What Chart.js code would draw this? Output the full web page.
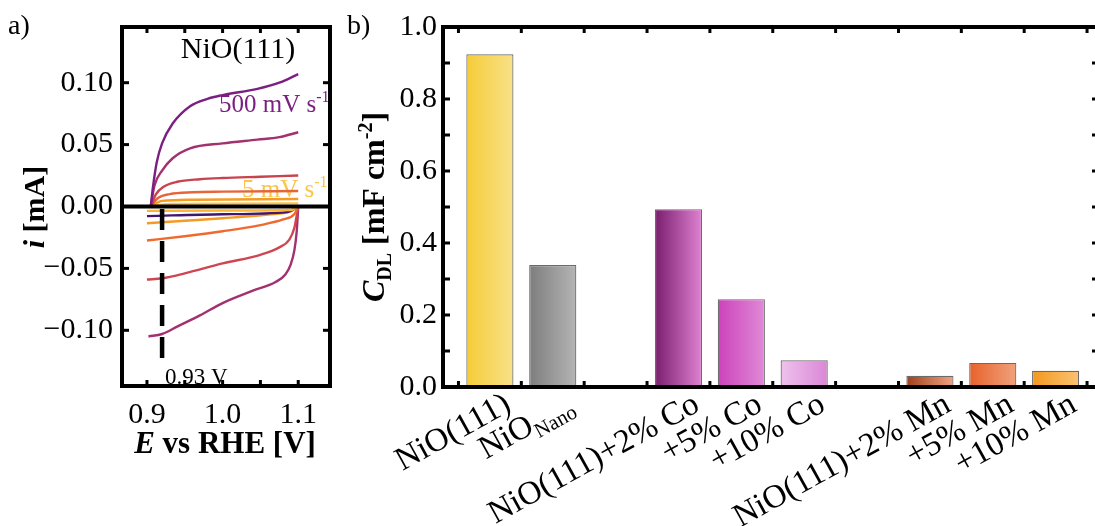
<!DOCTYPE html>
<html>
<head>
<meta charset="utf-8">
<script src="https://cdn.jsdelivr.net/npm/chart.js@4.4.1/dist/chart.umd.min.js"></script>
<style>
  html, body { margin: 0; padding: 0; background: #fff; overflow: hidden; width: 1095px; height: 526px; }
  #wa { position: absolute; left: 0; top: 0; width: 340px; height: 526px; }
  #wb { position: absolute; left: 340px; top: 0; width: 760px; height: 526px; }
</style>
</head>
<body>
<div id="wa"><canvas id="ca"></canvas></div>
<div id="wb"><canvas id="cb"></canvas></div>
<script>
// ---------- a) cyclic voltammograms of NiO(111): E [V vs RHE], i [mA] ----------
const cvUp500   = [[0.905,0],[0.908,0.016],[0.913,0.036],[0.92,0.051],[0.934,0.067],[0.957,0.081],[0.98,0.087],[1.0,0.090],[1.046,0.095],[1.075,0.100],[1.1,0.107]];
const cvUp200   = [[0.905,0],[0.91,0.017],[0.92,0.029],[0.934,0.039],[0.957,0.047],[1.0,0.051],[1.046,0.054],[1.075,0.056],[1.1,0.060]];
const cvUp100   = [[0.905,0],[0.912,0.010],[0.922,0.016],[0.94,0.020],[0.97,0.022],[1.0,0.023],[1.05,0.024],[1.1,0.025]];
const cvUp50    = [[0.905,0],[0.915,0.007],[0.93,0.010],[0.96,0.0115],[1.0,0.012],[1.1,0.0125]];
const cvUp20    = [[0.905,0],[0.92,0.0045],[0.96,0.0055],[1.1,0.006]];
const cvUp5     = [[0.905,0],[0.93,0.002],[1.1,0.0025]];
const cvDown5   = [[0.9,-0.0035],[1.0,-0.0032],[1.09,-0.0028],[1.1,0]];
const cvDown10  = [[0.9,-0.0078],[1.0,-0.0062],[1.085,-0.0045],[1.1,0]];
const cvDown20  = [[0.9,-0.0135],[0.95,-0.0115],[1.0,-0.0095],[1.06,-0.0065],[1.09,-0.004],[1.1,0]];
const cvDown50  = [[0.9,-0.0275],[0.95,-0.024],[1.0,-0.02],[1.05,-0.015],[1.08,-0.0105],[1.095,-0.006],[1.1,0]];
const cvDown100 = [[0.9,-0.059],[0.92,-0.058],[0.95,-0.054],[1.0,-0.046],[1.05,-0.039],[1.075,-0.033],[1.088,-0.027],[1.095,-0.017],[1.1,0]];
const cvDown500 = [[0.902,-0.105],[0.92,-0.103],[0.94,-0.097],[0.97,-0.088],[1.0,-0.078],[1.04,-0.068],[1.07,-0.061],[1.083,-0.055],[1.09,-0.047],[1.095,-0.035],[1.098,-0.02],[1.1,0]];
const onsetMarker = [[0.92,-0.002],[0.92,-0.124]];   // 0.93 V guide
const eTicks = [0.9, 1.0, 1.1];
const eMinorTicks = [0.9, 0.95, 1.0, 1.05, 1.1];
const iTicks = [-0.10, -0.05, 0, 0.05, 0.10];

const cvCurves = [cvUp500, cvUp200, cvUp100, cvUp50, cvUp20, cvUp5,
                  cvDown5, cvDown10, cvDown20, cvDown50, cvDown100, cvDown500];
const cvColors = ['#7b2081', '#a3306f', '#c9434f', '#e5663a', '#f59a22', '#f9c548',
                  '#fbb434', '#40196e', '#f59a22', '#ee6a30', '#cf4653', '#a3306f'];

// ---------- b) double-layer capacitance ----------
const categories = ['NiO(111)', 'NiO_Nano', null, 'NiO(111)+2% Co', '+5% Co', '+10% Co',
                    null, 'NiO(111)+2% Mn', '+5% Mn', '+10% Mn'];
const cdlValues  = [0.924, 0.339, null, 0.494, 0.244, 0.074, null, 0.031, 0.067, 0.045];
const cdlTicks   = [0, 0.2, 0.4, 0.6, 0.8, 1.0];
const barDark    = ['#f5cc38', '#7d7d7d', null, '#7a1d6e', '#cc42bb', '#efc2ee', null, '#a0401c', '#e8612c', '#f3981e'];
const barLight   = ['#f8e189', '#b5b5b5', null, '#e082d2', '#e08ad6', '#da86d6', null, '#f0a283', '#f0a27c', '#fbc274'];

const SERIF = "'Liberation Serif', 'Times New Roman', serif";
Chart.defaults.font.family = SERIF;
Chart.defaults.color = '#000';
Chart.defaults.animation = false;

function drawRuns(ctx, runs, x, y, align) {
  let w = 0;
  runs.forEach(r => { ctx.font = r.font; r.w = ctx.measureText(r.t).width; w += r.w; });
  let xx = align === 'center' ? x - w / 2 : align === 'right' ? x - w : x;
  ctx.textAlign = 'left';
  runs.forEach(r => { ctx.font = r.font; ctx.fillText(r.t, xx, y + (r.dy || 0)); xx += r.w; });
}
function seg(ctx, x1, y1, x2, y2) { ctx.beginPath(); ctx.moveTo(x1, y1); ctx.lineTo(x2, y2); ctx.stroke(); }

// ---------- panel a ----------
const cvDatasets = cvCurves.map((c, k) => ({
  data: c.map(p => ({ x: p[0], y: p[1] })),
  borderColor: cvColors[k],
  borderWidth: 2.4,
  showLine: true,
  pointRadius: 0,
  cubicInterpolationMode: 'monotone'
}));
cvDatasets.push({
  data: onsetMarker.map(p => ({ x: p[0], y: p[1] })),
  borderColor: '#000', borderWidth: 4.5, borderDash: [21, 11],
  showLine: true, pointRadius: 0, order: -1
});

const panelA = {
  id: 'panelA',
  beforeDatasetsDraw(chart) {
    const ctx = chart.ctx;
    ctx.save();
    ctx.textBaseline = 'alphabetic';
    ctx.fillStyle = '#7b2081';
    drawRuns(ctx, [{ t: '500 mV s', font: '25px ' + SERIF }, { t: '-1', font: '16px ' + SERIF, dy: -10 }], 219, 112, 'left');
    ctx.fillStyle = '#f9c54a';
    drawRuns(ctx, [{ t: '5 mV s', font: '25px ' + SERIF }, { t: '-1', font: '16px ' + SERIF, dy: -10 }], 242, 197, 'left');
    ctx.restore();
  },
  afterDatasetsDraw(chart) {
    const { ctx, chartArea: a, scales: { x, y } } = chart;
    ctx.save();
    ctx.strokeStyle = '#000';
    ctx.lineWidth = 4;
    const y0 = y.getPixelForValue(0);
    seg(ctx, a.left, y0, a.right, y0);
    ctx.strokeRect(a.left, a.top, a.right - a.left, a.bottom - a.top);
    ctx.lineWidth = 3;
    iTicks.forEach(v => { const p = y.getPixelForValue(v); seg(ctx, a.left, p, a.left + 7, p); seg(ctx, a.right, p, a.right - 7, p); });
    eMinorTicks.forEach(v => { const p = x.getPixelForValue(v); seg(ctx, p, a.bottom, p, a.bottom - 6); seg(ctx, p, a.top, p, a.top + 6); });

    ctx.fillStyle = '#000';
    ctx.textBaseline = 'alphabetic';
    drawRuns(ctx, [{ t: 'NiO(111)', font: '30px ' + SERIF }], 238, 58, 'center');
    drawRuns(ctx, [{ t: '0.93 V', font: '23px ' + SERIF }], 165, 384, 'left');
    drawRuns(ctx, [{ t: 'a)', font: '28px ' + SERIF }], 8, 34, 'left');
    drawRuns(ctx, [{ t: 'E', font: 'italic bold 31px ' + SERIF }, { t: ' vs RHE [V]', font: 'bold 31px ' + SERIF }], 225, 453, 'center');
    ctx.save();
    ctx.translate(44, 207);
    ctx.rotate(-Math.PI / 2);
    drawRuns(ctx, [{ t: 'i', font: 'italic bold 30px ' + SERIF }, { t: ' [mA]', font: 'bold 30px ' + SERIF }], 0, 0, 'center');
    ctx.restore();
    ctx.restore();
  }
};

new Chart(document.getElementById('ca'), {
  type: 'scatter',
  data: { datasets: cvDatasets },
  options: {
    responsive: true, maintainAspectRatio: false,
    layout: { padding: { top: 27, right: 10, left: 0, bottom: 0 } },
    plugins: { legend: { display: false }, tooltip: { enabled: false } },
    scales: {
      x: {
        type: 'linear', min: 0.867, max: 1.142,
        afterBuildTicks: s => { s.ticks = eTicks.map(v => ({ value: v })); },
        afterFit: s => { s.height = 140; },
        grid: { display: false, drawTicks: false },
        border: { display: false },
        ticks: { font: { size: 30 }, padding: 11, maxRotation: 0, callback: v => v.toFixed(1) }
      },
      y: {
        type: 'linear', min: -0.145, max: 0.145,
        afterBuildTicks: s => { s.ticks = iTicks.map(v => ({ value: v })); },
        afterFit: s => { s.width = 122; },
        grid: { display: false, drawTicks: false },
        border: { display: false },
        ticks: { font: { size: 30 }, padding: 9,
                 callback: v => (v < -1e-9 ? '\u2212' + Math.abs(v).toFixed(2) : Math.abs(v).toFixed(2)) }
      }
    }
  },
  plugins: [panelA]
});

// ---------- panel b ----------
const barPoints = categories.map((c, i) => ({ x: i, y: cdlValues[i], k: i })).filter(d => d.y !== null);

function barFill(ctx) {
  const d = ctx.raw; const chart = ctx.chart;
  if (!d) return '#ccc';
  if (!chart.chartArea) return barDark[d.k];
  const xs = chart.scales.x;
  const c = xs.getPixelForValue(d.x);
  const h = xs.getPixelForValue(d.x + 0.375) - c;
  const g = chart.ctx.createLinearGradient(c - h, 0, c + h, 0);
  g.addColorStop(0, barDark[d.k]);
  g.addColorStop(1, barLight[d.k]);
  return g;
}

const panelB = {
  id: 'panelB',
  afterDatasetsDraw(chart) {
    const { ctx, chartArea: a, scales: { x, y } } = chart;
    ctx.save();
    ctx.strokeStyle = '#000';
    ctx.lineWidth = 4;
    ctx.strokeRect(a.left, a.top, a.right - a.left, a.bottom - a.top);
    ctx.lineWidth = 3;
    for (let v = 0; v <= 1.0001; v += 0.1) {
      const p = y.getPixelForValue(v);
      seg(ctx, a.left, p, a.left + 7, p); seg(ctx, a.right, p, a.right - 7, p);
    }
    for (let i = 0; i <= categories.length; i++) {
      const p = x.getPixelForValue(i - 0.5);
      seg(ctx, p, a.bottom, p, a.bottom - 6); seg(ctx, p, a.top, p, a.top + 6);
    }

    ctx.fillStyle = '#000';
    ctx.textBaseline = 'alphabetic';
    drawRuns(ctx, [{ t: 'b)', font: '28px ' + SERIF }], 7, 34, 'left');
    ctx.save();
    ctx.translate(44, 207);
    ctx.rotate(-Math.PI / 2);
    drawRuns(ctx, [
      { t: 'C', font: 'italic bold 32px ' + SERIF },
      { t: 'DL', font: 'bold 20px ' + SERIF, dy: 7 },
      { t: ' [mF cm', font: 'bold 32px ' + SERIF },
      { t: '-2', font: 'bold 20px ' + SERIF, dy: -12 },
      { t: ']', font: 'bold 32px ' + SERIF }
    ], 0, 0, 'center');
    ctx.restore();

    // category labels, rotated
    const ang = -29 * Math.PI / 180;
    categories.forEach((c, i) => {
      if (!c) return;
      const cx = x.getPixelForValue(i);
      const parts = c.split('_');
      const runs = [{ t: parts[0], font: '33px ' + SERIF, dy: 24 }];
      if (parts[1]) runs.push({ t: parts[1], font: '21px ' + SERIF, dy: 31 });
      ctx.save();
      ctx.translate(cx + 11, a.bottom + 2);
      ctx.rotate(ang);
      drawRuns(ctx, runs, 0, 0, 'right');
      ctx.restore();
    });
    ctx.restore();
  }
};

new Chart(document.getElementById('cb'), {
  type: 'bar',
  data: {
    datasets: [{
      data: barPoints,
      backgroundColor: barFill,
      borderColor: '#6a6a6a',
      borderWidth: 1.2,
      borderSkipped: 'start',
      categoryPercentage: 1,
      barPercentage: 0.75
    }]
  },
  options: {
    responsive: true, maintainAspectRatio: false,
    layout: { padding: { top: 27, right: 1, left: 0, bottom: 0 } },
    plugins: { legend: { display: false }, tooltip: { enabled: false } },
    scales: {
      x: {
        type: 'linear', min: -0.746, max: 9.69, offset: false,
        afterBuildTicks: s => { s.ticks = categories.map((c, i) => ({ value: i - 0.5 })); },
        afterFit: s => { s.height = 139; },
        grid: { display: false, drawTicks: false },
        border: { display: false },
        ticks: { display: false }
      },
      y: {
        type: 'linear', min: 0, max: 1.0,
        afterBuildTicks: s => { s.ticks = cdlTicks.map(v => ({ value: v })); },
        afterFit: s => { s.width = 103; },
        grid: { display: false, drawTicks: false },
        border: { display: false },
        ticks: { font: { size: 30 }, padding: 6, callback: v => v.toFixed(1) }
      }
    }
  },
  plugins: [panelB]
});
</script>
</body>
</html>
